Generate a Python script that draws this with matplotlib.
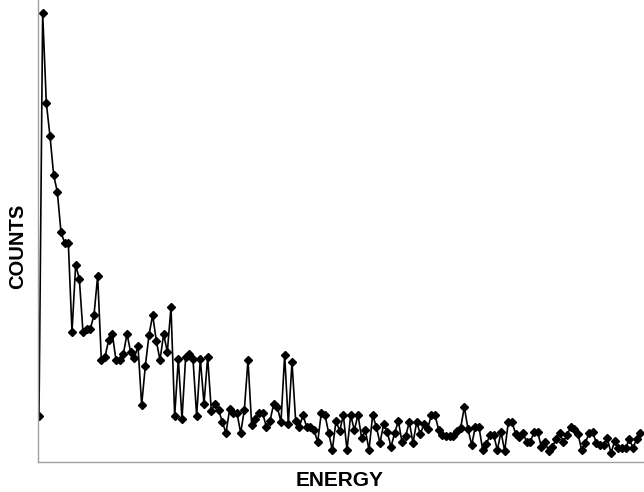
import matplotlib
matplotlib.use("Agg")
import matplotlib.pyplot as plt
import numpy as np

counts = [
    46, 449, 359, 326, 287, 270, 230, 219, 219, 130,
    197, 183, 130, 133, 133, 147, 186, 102, 105, 122,
    128, 102, 102, 108, 128, 110, 104, 116, 57, 96,
    127, 147, 121, 102, 128, 110, 155, 46, 103, 43,
    105, 108, 103, 46, 103, 58, 105, 51, 58, 52,
    40, 29, 53, 49, 49, 29, 52, 102, 37, 43,
    49, 49, 35, 41, 58, 55, 40, 107, 38, 100,
    41, 35, 47, 35, 35, 32, 20, 49, 47, 29,
    12, 41, 31, 47, 12, 47, 32, 47, 24, 32,
    12, 47, 35, 19, 38, 30, 15, 29, 41, 20,
    26, 40, 19, 40, 28, 38, 33, 47, 47, 32,
    27, 26, 26, 26, 31, 34, 55, 33, 17, 35,
    35, 12, 18, 27, 27, 12, 30, 11, 40, 40,
    28, 25, 29, 20, 20, 30, 30, 15, 20, 11,
    15, 23, 29, 20, 27, 35, 33, 28, 12, 19,
    29, 30, 19, 17, 17, 24, 9, 21, 14, 14,
    14, 23, 14, 23, 29,
]
channels = list(range(len(counts)))

x_label = "ENERGY"
y_label = "COUNTS"

W, H = 644, 492
fig = plt.figure(figsize=(W / 100, H / 100), dpi=100)
ax = fig.add_axes([38 / W, (H - 462) / H, (W - 38) / W, 462 / H])

ax.plot(channels, counts, color="black", linewidth=1.2,
        marker="D", markersize=3.6, markerfacecolor="black",
        markeredgecolor="black")

ax.set_xlim(-0.27, 165.0)
ax.set_ylim(0, 462)
ax.set_xticks([])
ax.set_yticks([])
for s in ["top", "right"]:
    ax.spines[s].set_visible(False)
for s in ["left", "bottom"]:
    ax.spines[s].set_color("#a0a0a0")
    ax.spines[s].set_linewidth(1.0)

fig.text(340 / W, 1 - 480 / H, x_label, ha="center", va="center",
         fontsize=15, fontweight="bold", family="Liberation Sans")
fig.text(18 / W, 1 - 246 / H, y_label, ha="center", va="center",
         rotation=90, fontsize=14.5, fontweight="bold", family="Liberation Sans")

fig.savefig("out.png", dpi=100)
